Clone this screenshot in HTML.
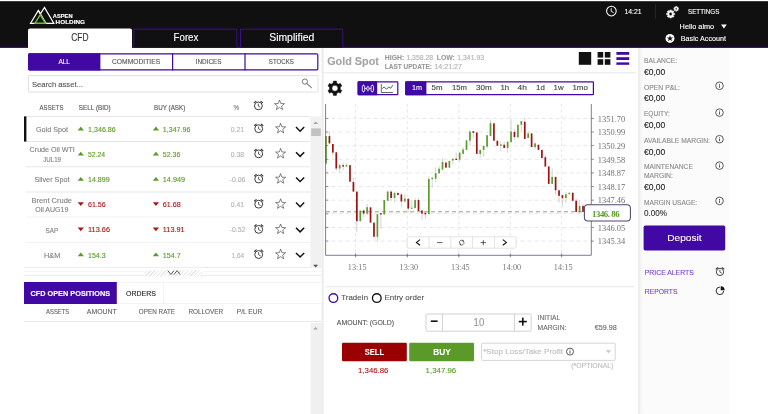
<!DOCTYPE html>
<html lang="en"><head><meta charset="utf-8"><title>Aspen Holding - CFD Trading</title>
<style>
html,body{margin:0;padding:0;width:768px;height:414px;overflow:hidden;background:#fff;}
#stage{position:absolute;left:0;top:0;width:1920px;height:1035px;transform:scale(0.4);transform-origin:0 0;
font-family:"Liberation Sans",Arial,sans-serif;overflow:hidden;background:#fff;}
#stage div{position:absolute;box-sizing:border-box;}
#stage .t{white-space:nowrap;-webkit-text-stroke-width:0.3px;}
#stage svg{position:absolute;left:0;top:0;}
</style></head><body>
<div id="stage">
<div style="left:0px;top:2.5px;width:1920px;height:115px;background:#101010;"></div>
<div style="left:0px;top:117.12px;width:1920px;height:2.5px;background:#4108a3;"></div>
<div style="left:70px;top:71.25px;width:260px;height:48.75px;background:#fff;border-radius:5px 5px 0 0;"></div>
<div style="left:332.75px;top:71px;width:260.75px;height:48px;border:3px solid #4710ac;border-bottom:none;border-radius:4px 4px 0 0;background:#101010;"></div>
<div style="left:598.75px;top:71px;width:260.25px;height:48px;border:3px solid #4710ac;border-bottom:none;border-radius:4px 4px 0 0;background:#101010;"></div>
<div class="t" style="top:69px;height:50.5px;line-height:50.5px;font-size:25.25px;color:#333;left:178px;transform:scaleX(0.838);transform-origin:0 50%;">CFD</div>
<div class="t" style="top:69px;height:50.5px;line-height:50.5px;font-size:25.25px;color:#fff;left:433.75px;transform:scaleX(0.957);transform-origin:0 50%;">Forex</div>
<div class="t" style="top:69px;height:50.5px;line-height:50.5px;font-size:25.25px;color:#fff;left:673px;transform:scaleX(1.030);transform-origin:0 50%;">Simplified</div>
<div class="t" style="top:29.75px;height:24.5px;line-height:24.5px;font-size:12.25px;color:#fff;font-weight:700;left:132.25px;transform:scaleX(1.173);transform-origin:0 50%;">ASPEN</div>
<div class="t" style="top:43.25px;height:24.5px;line-height:24.5px;font-size:12.25px;color:#fff;font-weight:700;left:138.5px;transform:scaleX(1.302);transform-origin:0 50%;">HOLDING</div>
<div class="t" style="top:11.5px;height:35.5px;line-height:35.5px;font-size:17.75px;color:#fff;left:1561.25px;transform:scaleX(0.967);transform-origin:0 50%;">14:21</div>
<div style="left:1637.75px;top:10.5px;width:1.5px;height:35px;background:#4a4a4a;"></div>
<div class="t" style="top:11.25px;height:35.5px;line-height:35.5px;font-size:17.75px;color:#fff;left:1719.75px;transform:scaleX(0.882);transform-origin:0 50%;">SETTINGS</div>
<div class="t" style="top:49px;height:35.5px;line-height:35.5px;font-size:17.75px;color:#fff;left:1699px;transform:scaleX(1.031);transform-origin:0 50%;">Hello almo</div>
<div class="t" style="top:78.5px;height:35.5px;line-height:35.5px;font-size:17.75px;color:#fff;left:1702px;transform:scaleX(1.014);transform-origin:0 50%;">Basic Account</div>
<div style="left:803.5px;top:119.5px;width:5.5px;height:915.5px;background:#ebebeb;"></div>
<div style="left:70px;top:132.5px;width:725.5px;height:43.5px;border:3px solid #4108a3;border-radius:4px;background:#fff;"></div>
<div style="left:70px;top:132.5px;width:181px;height:43.5px;background:#4108a3;border-radius:4px 0 0 4px;"></div>
<div style="left:430.25px;top:132.5px;width:2.75px;height:43.5px;background:#4108a3;"></div>
<div style="left:611.25px;top:132.5px;width:2.75px;height:43.5px;background:#4108a3;"></div>
<div class="t" style="top:137px;height:35px;line-height:35px;font-size:17.5px;color:#fff;left:145.75px;transform:scaleX(0.923);transform-origin:0 50%;">ALL</div>
<div class="t" style="top:137px;height:35px;line-height:35px;font-size:17.5px;color:#555;left:279.75px;transform:scaleX(0.959);transform-origin:0 50%;">COMMODITIES</div>
<div class="t" style="top:137px;height:35px;line-height:35px;font-size:17.5px;color:#555;left:489px;transform:scaleX(0.916);transform-origin:0 50%;">INDICES</div>
<div class="t" style="top:137px;height:35px;line-height:35px;font-size:17.5px;color:#555;left:671.75px;transform:scaleX(0.876);transform-origin:0 50%;">STOCKS</div>
<div style="left:70px;top:188px;width:725.5px;height:43px;border:2px solid #d8d8d8;border-radius:3px;background:#fff;"></div>
<div class="t" style="top:192px;height:39px;line-height:39px;font-size:19.5px;color:#555;left:80px;transform:scaleX(0.978);transform-origin:0 50%;">Search asset...</div>
<div class="t" style="top:250px;height:36px;line-height:36px;font-size:18px;color:#555;left:98.75px;transform:scaleX(0.838);transform-origin:0 50%;">ASSETS</div>
<div class="t" style="top:250px;height:36px;line-height:36px;font-size:18px;color:#555;left:196.75px;transform:scaleX(0.883);transform-origin:0 50%;">SELL (BID)</div>
<div class="t" style="top:250px;height:36px;line-height:36px;font-size:18px;color:#555;left:384.75px;transform:scaleX(0.872);transform-origin:0 50%;">BUY (ASK)</div>
<div class="t" style="top:250.5px;height:35px;line-height:35px;font-size:17.5px;color:#777;left:583.75px;transform:scaleX(0.883);transform-origin:0 50%;">%</div>
<div style="left:65px;top:290.25px;width:710px;height:1.5px;background:#e0e0e0;"></div>
<div class="t" style="top:306.96px;height:35.5px;line-height:35.5px;font-size:17.75px;color:#828282;left:89.75px;transform:scaleX(1.011);transform-origin:0 50%;">Gold Spot</div>
<div class="t" style="top:304.96px;height:36px;line-height:36px;font-size:18px;color:#5a9a28;left:219.5px;transform:scaleX(0.991);transform-origin:0 50%;">1,346.86</div>
<div class="t" style="top:304.96px;height:36px;line-height:36px;font-size:18px;color:#5a9a28;left:407.25px;transform:scaleX(0.984);transform-origin:0 50%;">1,347.96</div>
<div class="t" style="top:305.96px;height:35.5px;line-height:35.5px;font-size:17.75px;color:#b4b4b4;left:577.25px;transform:scaleX(0.970);transform-origin:0 50%;">0.21</div>
<div style="left:65px;top:353.17px;width:710px;height:1.5px;background:#e0e0e0;"></div>
<div class="t" style="top:358.39px;height:35.5px;line-height:35.5px;font-size:17.75px;color:#828282;left:73.5px;transform:scaleX(1.005);transform-origin:0 50%;">Crude Oil WTI</div>
<div class="t" style="top:381.14px;height:35.5px;line-height:35.5px;font-size:17.75px;color:#828282;left:108px;transform:scaleX(0.867);transform-origin:0 50%;">JUL19</div>
<div class="t" style="top:367.89px;height:36px;line-height:36px;font-size:18px;color:#5a9a28;left:219.5px;transform:scaleX(0.954);transform-origin:0 50%;">52.24</div>
<div class="t" style="top:367.89px;height:36px;line-height:36px;font-size:18px;color:#5a9a28;left:407.25px;transform:scaleX(0.970);transform-origin:0 50%;">52.36</div>
<div class="t" style="top:368.89px;height:35.5px;line-height:35.5px;font-size:17.75px;color:#b4b4b4;left:577.25px;transform:scaleX(0.970);transform-origin:0 50%;">0.38</div>
<div style="left:65px;top:416.1px;width:710px;height:1.5px;background:#e0e0e0;"></div>
<div class="t" style="top:432.81px;height:35.5px;line-height:35.5px;font-size:17.75px;color:#828282;left:85.5px;transform:scaleX(1.022);transform-origin:0 50%;">Silver Spot</div>
<div class="t" style="top:430.81px;height:36px;line-height:36px;font-size:18px;color:#5a9a28;left:219.5px;transform:scaleX(0.985);transform-origin:0 50%;">14.899</div>
<div class="t" style="top:430.81px;height:36px;line-height:36px;font-size:18px;color:#5a9a28;left:407.25px;transform:scaleX(1.012);transform-origin:0 50%;">14.949</div>
<div class="t" style="top:431.81px;height:35.5px;line-height:35.5px;font-size:17.75px;color:#b4b4b4;left:574.25px;transform:scaleX(0.976);transform-origin:0 50%;">-0.06</div>
<div style="left:65px;top:479.03px;width:710px;height:1.5px;background:#e0e0e0;"></div>
<div class="t" style="top:484.24px;height:35.5px;line-height:35.5px;font-size:17.75px;color:#828282;left:79.25px;transform:scaleX(1.056);transform-origin:0 50%;">Brent Crude</div>
<div class="t" style="top:506.99px;height:35.5px;line-height:35.5px;font-size:17.75px;color:#828282;left:88px;transform:scaleX(0.987);transform-origin:0 50%;">Oil AUG19</div>
<div class="t" style="top:493.74px;height:36px;line-height:36px;font-size:18px;color:#ab1515;left:219.5px;transform:scaleX(0.981);transform-origin:0 50%;">61.56</div>
<div class="t" style="top:493.74px;height:36px;line-height:36px;font-size:18px;color:#ab1515;left:407.25px;transform:scaleX(0.998);transform-origin:0 50%;">61.68</div>
<div class="t" style="top:494.74px;height:35.5px;line-height:35.5px;font-size:17.75px;color:#b4b4b4;left:577.25px;transform:scaleX(0.949);transform-origin:0 50%;">0.41</div>
<div style="left:65px;top:541.95px;width:710px;height:1.5px;background:#e0e0e0;"></div>
<div class="t" style="top:558.66px;height:35.5px;line-height:35.5px;font-size:17.75px;color:#828282;left:114.25px;transform:scaleX(0.887);transform-origin:0 50%;">SAP</div>
<div class="t" style="top:556.66px;height:36px;line-height:36px;font-size:18px;color:#ab1515;left:219.5px;transform:scaleX(1.024);transform-origin:0 50%;">113.66</div>
<div class="t" style="top:556.66px;height:36px;line-height:36px;font-size:18px;color:#ab1515;left:407.25px;transform:scaleX(1.014);transform-origin:0 50%;">113.91</div>
<div class="t" style="top:557.66px;height:35.5px;line-height:35.5px;font-size:17.75px;color:#b4b4b4;left:574.25px;transform:scaleX(0.976);transform-origin:0 50%;">-0.52</div>
<div style="left:65px;top:604.88px;width:710px;height:1.5px;background:#e0e0e0;"></div>
<div class="t" style="top:621.59px;height:35.5px;line-height:35.5px;font-size:17.75px;color:#828282;left:110px;transform:scaleX(1.034);transform-origin:0 50%;">H&amp;M</div>
<div class="t" style="top:619.59px;height:36px;line-height:36px;font-size:18px;color:#5a9a28;left:219.5px;transform:scaleX(0.981);transform-origin:0 50%;">154.3</div>
<div class="t" style="top:619.59px;height:36px;line-height:36px;font-size:18px;color:#5a9a28;left:407.25px;transform:scaleX(0.998);transform-origin:0 50%;">154.7</div>
<div class="t" style="top:620.59px;height:35.5px;line-height:35.5px;font-size:17.75px;color:#b4b4b4;left:579.25px;transform:scaleX(0.912);transform-origin:0 50%;">1.64</div>
<div style="left:65px;top:667.8px;width:710px;height:1.5px;background:#e0e0e0;"></div>
<div style="left:60px;top:291px;width:6.25px;height:63px;background:#111;"></div>
<div style="left:775.5px;top:290.5px;width:28px;height:377.75px;background:#f1f1f1;"></div>
<div style="left:777.75px;top:321.25px;width:24.5px;height:18.5px;background:#c1c1c1;"></div>
<div style="left:60px;top:667.5px;width:743.5px;height:1.5px;background:#e4e4e4;"></div>
<div style="left:60px;top:677.5px;width:743.5px;height:1.5px;background:#e8e8e8;"></div>
<div style="left:60px;top:688.25px;width:743.5px;height:1.5px;background:#e8e8e8;"></div>
<div style="left:360.5px;top:675.5px;width:144.5px;height:15.5px;background:repeating-linear-gradient(135deg,#fff 0,#fff 4.3px,#e6e6e6 4.3px,#e6e6e6 6.6px);"></div>
<div style="left:60px;top:705px;width:743.5px;height:55.25px;border-top:1.5px solid #e2e2e2;border-bottom:1.5px solid #e2e2e2;background:#fff;"></div>
<div style="left:407.5px;top:705px;width:1.5px;height:55.25px;background:#e2e2e2;"></div>
<div style="left:60px;top:705px;width:232.25px;height:55.25px;background:#4108a3;"></div>
<div class="t" style="top:715px;height:36.5px;line-height:36.5px;font-size:18.25px;color:#fff;font-weight:700;left:75.5px;transform:scaleX(1.004);transform-origin:0 50%;">CFD OPEN POSITIONS</div>
<div class="t" style="top:713.75px;height:39px;line-height:39px;font-size:19.5px;color:#222;left:314.5px;transform:scaleX(0.896);transform-origin:0 50%;">ORDERS</div>
<div class="t" style="top:761.5px;height:35.5px;line-height:35.5px;font-size:17.75px;color:#666;left:114.5px;transform:scaleX(0.832);transform-origin:0 50%;">ASSETS</div>
<div class="t" style="top:761.5px;height:35.5px;line-height:35.5px;font-size:17.75px;color:#666;left:217.25px;transform:scaleX(0.971);transform-origin:0 50%;">AMOUNT</div>
<div class="t" style="top:761.5px;height:35.5px;line-height:35.5px;font-size:17.75px;color:#666;left:347.25px;transform:scaleX(0.894);transform-origin:0 50%;">OPEN RATE</div>
<div class="t" style="top:761.5px;height:35.5px;line-height:35.5px;font-size:17.75px;color:#666;left:470.5px;transform:scaleX(0.898);transform-origin:0 50%;">ROLLOVER</div>
<div class="t" style="top:761.5px;height:35.5px;line-height:35.5px;font-size:17.75px;color:#666;left:592px;transform:scaleX(0.935);transform-origin:0 50%;">P/L EUR</div>
<div style="left:60px;top:803.25px;width:743.5px;height:1.5px;background:#e4e4e4;"></div>
<div style="left:775.5px;top:806.5px;width:28px;height:228.5px;background:#f0f0f0;"></div>
<div class="t" style="top:125px;height:55px;line-height:55px;font-size:27.5px;color:#a4a4a4;font-weight:700;left:817.75px;transform:scaleX(0.984);transform-origin:0 50%;">Gold Spot</div>
<div class="t" style="top:125.5px;height:35px;line-height:35px;font-size:17.5px;color:#9a9a9a;font-weight:700;left:961.75px;transform:scaleX(0.983);transform-origin:0 50%;">HIGH:</div>
<div class="t" style="top:125.5px;height:35px;line-height:35px;font-size:17.5px;color:#b0b0b0;left:1015.75px;transform:scaleX(0.979);transform-origin:0 50%;">1,358.28</div>
<div class="t" style="top:125.5px;height:35px;line-height:35px;font-size:17.5px;color:#9a9a9a;font-weight:700;left:1092.25px;transform:scaleX(0.976);transform-origin:0 50%;">LOW:</div>
<div class="t" style="top:125.5px;height:35px;line-height:35px;font-size:17.5px;color:#b0b0b0;left:1142.75px;transform:scaleX(0.987);transform-origin:0 50%;">1,341.93</div>
<div class="t" style="top:148.75px;height:35px;line-height:35px;font-size:17.5px;color:#9a9a9a;font-weight:700;left:961.75px;transform:scaleX(0.927);transform-origin:0 50%;">LAST UPDATE:</div>
<div class="t" style="top:148.75px;height:35px;line-height:35px;font-size:17.5px;color:#b0b0b0;left:1086px;transform:scaleX(1.012);transform-origin:0 50%;">14:21:27</div>
<div style="left:809px;top:181.25px;width:779.75px;height:1.5px;background:#e0e0e0;"></div>
<div style="left:1446.75px;top:130.25px;width:31.5px;height:32px;background:#111;"></div>
<div style="left:1493.75px;top:130.25px;width:14px;height:14px;background:#111;"></div>
<div style="left:1511.5px;top:130.25px;width:14px;height:14px;background:#111;"></div>
<div style="left:1493.75px;top:148.25px;width:14px;height:14px;background:#111;"></div>
<div style="left:1511.5px;top:148.25px;width:14px;height:14px;background:#111;"></div>
<div style="left:1541.25px;top:130.25px;width:31.75px;height:6.75px;background:#4108a3;"></div>
<div style="left:1541.25px;top:142.75px;width:31.75px;height:6.75px;background:#4108a3;"></div>
<div style="left:1541.25px;top:155.5px;width:31.75px;height:6.75px;background:#4108a3;"></div>
<div style="left:893.75px;top:202.75px;width:101.75px;height:35px;border:3px solid #4108a3;border-radius:3px;background:#fff;"></div>
<div style="left:893.75px;top:202.75px;width:48.75px;height:35px;background:#4108a3;border-radius:3px 0 0 3px;"></div>
<div style="left:1013px;top:202.75px;width:471.5px;height:35px;border:3px solid #4108a3;border-radius:3px;background:#fff;"></div>
<div style="left:1013px;top:202.75px;width:53px;height:35px;background:#4108a3;border-radius:3px 0 0 3px;"></div>
<div class="t" style="top:199.5px;height:39px;line-height:39px;font-size:19.5px;color:#fff;left:1029.5px;transform:scaleX(0.922);transform-origin:0 50%;">1m</div>
<div class="t" style="top:199.5px;height:39px;line-height:39px;font-size:19.5px;color:#444;left:1078.5px;transform:scaleX(1.015);transform-origin:0 50%;">5m</div>
<div class="t" style="top:199.5px;height:39px;line-height:39px;font-size:19.5px;color:#444;left:1130px;transform:scaleX(0.989);transform-origin:0 50%;">15m</div>
<div class="t" style="top:199.5px;height:39px;line-height:39px;font-size:19.5px;color:#444;left:1189.75px;transform:scaleX(1.035);transform-origin:0 50%;">30m</div>
<div class="t" style="top:199.5px;height:39px;line-height:39px;font-size:19.5px;color:#444;left:1251.25px;transform:scaleX(1.016);transform-origin:0 50%;">1h</div>
<div class="t" style="top:199.5px;height:39px;line-height:39px;font-size:19.5px;color:#444;left:1294.25px;transform:scaleX(1.074);transform-origin:0 50%;">4h</div>
<div class="t" style="top:199.5px;height:39px;line-height:39px;font-size:19.5px;color:#444;left:1339.5px;transform:scaleX(1.016);transform-origin:0 50%;">1d</div>
<div class="t" style="top:199.5px;height:39px;line-height:39px;font-size:19.5px;color:#444;left:1384px;transform:scaleX(1.012);transform-origin:0 50%;">1w</div>
<div class="t" style="top:199.5px;height:39px;line-height:39px;font-size:19.5px;color:#444;left:1431.25px;transform:scaleX(1.022);transform-origin:0 50%;">1mo</div>
<div style="left:815px;top:716.25px;width:771.25px;height:1.5px;background:#e0e0e0;"></div>
<div class="t" style="top:724px;height:39px;line-height:39px;font-size:19.5px;color:#555;left:852.5px;transform:scaleX(1.015);transform-origin:0 50%;">TradeIn</div>
<div class="t" style="top:724px;height:39px;line-height:39px;font-size:19.5px;color:#555;left:960.75px;transform:scaleX(1.029);transform-origin:0 50%;">Entry order</div>
<div class="t" style="top:789.25px;height:35.5px;line-height:35.5px;font-size:17.75px;color:#555;left:841.5px;transform:scaleX(0.973);transform-origin:0 50%;">AMOUNT: (GOLD)</div>
<div style="left:1063.5px;top:784px;width:265.5px;height:44.5px;border:2px solid #c6c6c6;border-radius:4px;background:#fff;"></div>
<div style="left:1105.25px;top:784px;width:1.5px;height:44.5px;background:#ccc;"></div>
<div style="left:1285.25px;top:784px;width:1.5px;height:44.5px;background:#ccc;"></div>
<div class="t" style="top:781.5px;height:50px;line-height:50px;font-size:25px;color:#999;left:1183.5px;transform:scaleX(0.955);transform-origin:0 50%;">10</div>
<div style="left:1076.5px;top:801.25px;width:17.5px;height:3.75px;background:#111;"></div>
<div style="left:1297px;top:802px;width:19.5px;height:3.75px;background:#111;"></div>
<div style="left:1304.75px;top:794px;width:4px;height:19.75px;background:#111;"></div>
<div class="t" style="top:777px;height:35px;line-height:35px;font-size:17.5px;color:#6c6c6c;left:1343.5px;transform:scaleX(0.948);transform-origin:0 50%;">INITIAL</div>
<div class="t" style="top:801px;height:35px;line-height:35px;font-size:17.5px;color:#6c6c6c;left:1343.5px;transform:scaleX(0.961);transform-origin:0 50%;">MARGIN:</div>
<div class="t" style="top:800.25px;height:36.5px;line-height:36.5px;font-size:18.25px;color:#6c6c6c;left:1487.25px;transform:scaleX(0.989);transform-origin:0 50%;">€59.98</div>
<div style="left:854.75px;top:857px;width:162px;height:45.75px;background:#9a0000;border-radius:3px;"></div>
<div style="left:1023px;top:857px;width:161.5px;height:45.75px;background:#5a9a28;border-radius:3px;"></div>
<div class="t" style="top:857px;height:45px;line-height:45px;font-size:22.5px;color:#fff;font-weight:700;left:912px;transform:scaleX(0.835);transform-origin:0 50%;">SELL</div>
<div class="t" style="top:857px;height:45px;line-height:45px;font-size:22.5px;color:#fff;font-weight:700;left:1082.75px;transform:scaleX(0.922);transform-origin:0 50%;">BUY</div>
<div class="t" style="top:906.75px;height:39.5px;line-height:39.5px;font-size:19.75px;color:#b01818;left:894.5px;transform:scaleX(0.991);transform-origin:0 50%;">1,346.86</div>
<div class="t" style="top:906.75px;height:39.5px;line-height:39.5px;font-size:19.75px;color:#5a9a28;left:1064px;transform:scaleX(0.994);transform-origin:0 50%;">1,347.96</div>
<div style="left:1203.25px;top:857px;width:336px;height:44.5px;border:2px solid #cdcdcd;border-radius:3px;background:#fff;"></div>
<div class="t" style="top:860px;height:39px;line-height:39px;font-size:19.5px;color:#bdbdbd;left:1208px;transform:scaleX(1.040);transform-origin:0 50%;">*Stop Loss/Take Profit</div>
<div class="t" style="top:898px;height:35.5px;line-height:35.5px;font-size:17.75px;color:#bdbdbd;left:1427.5px;transform:scaleX(0.973);transform-origin:0 50%;">(*OPTIONAL)</div>
<div style="left:1594px;top:119.5px;width:12.5px;height:915.5px;background:linear-gradient(90deg,#fff 0,#e9e9e9 22%,#f3f3f3 50%,#fbfbfb 100%);"></div>
<div style="left:1606.5px;top:119.5px;width:216px;height:915.5px;background:#fbfbfb;"></div>
<div class="t" style="top:134.25px;height:36px;line-height:36px;font-size:18px;color:#8a8a8a;left:1609.75px;transform:scaleX(0.930);transform-origin:0 50%;">BALANCE:</div>
<div class="t" style="top:200.75px;height:36px;line-height:36px;font-size:18px;color:#8a8a8a;left:1609.75px;transform:scaleX(0.944);transform-origin:0 50%;">OPEN P&amp;L:</div>
<div class="t" style="top:267px;height:36px;line-height:36px;font-size:18px;color:#8a8a8a;left:1609.75px;transform:scaleX(0.908);transform-origin:0 50%;">EQUITY:</div>
<div class="t" style="top:333px;height:36px;line-height:36px;font-size:18px;color:#8a8a8a;left:1609.75px;transform:scaleX(0.935);transform-origin:0 50%;">AVAILABLE MARGIN:</div>
<div class="t" style="top:398.75px;height:36px;line-height:36px;font-size:18px;color:#8a8a8a;left:1609.75px;transform:scaleX(0.933);transform-origin:0 50%;">MAINTENANCE</div>
<div class="t" style="top:420.75px;height:36px;line-height:36px;font-size:18px;color:#8a8a8a;left:1609.75px;transform:scaleX(0.935);transform-origin:0 50%;">MARGIN:</div>
<div class="t" style="top:487.5px;height:36px;line-height:36px;font-size:18px;color:#8a8a8a;left:1609.75px;transform:scaleX(0.917);transform-origin:0 50%;">MARGIN USAGE:</div>
<div class="t" style="top:158.75px;height:43.5px;line-height:43.5px;font-size:21.75px;color:#222;left:1609.75px;transform:scaleX(0.977);transform-origin:0 50%;">€0,00</div>
<div class="t" style="top:223.5px;height:43.5px;line-height:43.5px;font-size:21.75px;color:#222;left:1609.75px;transform:scaleX(0.977);transform-origin:0 50%;">€0,00</div>
<div class="t" style="top:291.5px;height:43.5px;line-height:43.5px;font-size:21.75px;color:#222;left:1609.75px;transform:scaleX(0.977);transform-origin:0 50%;">€0,00</div>
<div class="t" style="top:357.5px;height:43.5px;line-height:43.5px;font-size:21.75px;color:#222;left:1609.75px;transform:scaleX(0.977);transform-origin:0 50%;">€0,00</div>
<div class="t" style="top:445.25px;height:43.5px;line-height:43.5px;font-size:21.75px;color:#222;left:1609.75px;transform:scaleX(0.977);transform-origin:0 50%;">€0,00</div>
<div class="t" style="top:512.25px;height:43px;line-height:43px;font-size:21.5px;color:#333;left:1609.75px;transform:scaleX(0.947);transform-origin:0 50%;">0.00%</div>
<div style="left:1608.5px;top:564.25px;width:204px;height:61.75px;background:#4108a3;border-radius:4px;"></div>
<div class="t" style="top:570px;height:49px;line-height:49px;font-size:24.5px;color:#fff;left:1667.75px;transform:scaleX(1.035);transform-origin:0 50%;">Deposit</div>
<div class="t" style="top:660.75px;height:39px;line-height:39px;font-size:19.5px;color:#7a3fd0;left:1611.75px;transform:scaleX(0.877);transform-origin:0 50%;">PRICE ALERTS</div>
<div class="t" style="top:708px;height:39px;line-height:39px;font-size:19.5px;color:#7a3fd0;left:1611.75px;transform:scaleX(0.868);transform-origin:0 50%;">REPORTS</div>
<svg width="1920" height="1035" viewBox="0 0 768 414" style=""><path d="M77.7 130.38500000000002L83.89999999999999 130.38500000000002L80.8 126.58500000000002Z" fill="#5a9a28"/><path d="M152.8 130.38500000000002L159.0 130.38500000000002L155.9 126.58500000000002Z" fill="#5a9a28"/><path d="M77.7 155.555L83.89999999999999 155.555L80.8 151.755Z" fill="#5a9a28"/><path d="M152.8 155.555L159.0 155.555L155.9 151.755Z" fill="#5a9a28"/><path d="M77.7 180.72500000000002L83.89999999999999 180.72500000000002L80.8 176.925Z" fill="#5a9a28"/><path d="M152.8 180.72500000000002L159.0 180.72500000000002L155.9 176.925Z" fill="#5a9a28"/><path d="M77.7 202.29500000000004L83.89999999999999 202.29500000000004L80.8 206.09500000000003Z" fill="#ab1515"/><path d="M152.8 202.29500000000004L159.0 202.29500000000004L155.9 206.09500000000003Z" fill="#ab1515"/><path d="M77.7 227.46500000000003L83.89999999999999 227.46500000000003L80.8 231.26500000000001Z" fill="#ab1515"/><path d="M152.8 227.46500000000003L159.0 227.46500000000003L155.9 231.26500000000001Z" fill="#ab1515"/><path d="M77.7 256.235L83.89999999999999 256.235L80.8 252.435Z" fill="#5a9a28"/><path d="M152.8 256.235L159.0 256.235L155.9 252.435Z" fill="#5a9a28"/><path d="M313.3 124.1L318.1 124.1L315.7 121.6Z" fill="#a3a3a3"/><path d="M313.2 264.8L318 264.8L315.6 267.4Z" fill="#505050"/><path d="M167.8 270.6L170.9 274.6L174 270.6M174 274.6L177.1 270.6L180.2 274.6" fill="none" stroke="#333" stroke-width="0.8"/><path d="M313.4 329.4L317.8 329.4L315.6 327Z" fill="#a3a3a3"/><path d="M605.7 350.2L611.3 350.2L608.5 353.3Z" fill="#c8c8c8"/></svg>
<svg width="1920" height="1035" viewBox="0 0 768 414" style=""><line x1="355.6" y1="104" x2="355.6" y2="255" stroke="#d6d6d6" stroke-width="0.6" stroke-dasharray="3.2 2.4"/><line x1="407.3" y1="104" x2="407.3" y2="255" stroke="#d6d6d6" stroke-width="0.6" stroke-dasharray="3.2 2.4"/><line x1="458.8" y1="104" x2="458.8" y2="255" stroke="#d6d6d6" stroke-width="0.6" stroke-dasharray="3.2 2.4"/><line x1="510.3" y1="104" x2="510.3" y2="255" stroke="#d6d6d6" stroke-width="0.6" stroke-dasharray="3.2 2.4"/><line x1="561.6" y1="104" x2="561.6" y2="255" stroke="#d6d6d6" stroke-width="0.6" stroke-dasharray="3.2 2.4"/><line x1="331.5" y1="118.40" x2="591" y2="118.40" stroke="#d6d6d6" stroke-width="0.6" stroke-dasharray="4 3"/><line x1="331.5" y1="132.03" x2="591" y2="132.03" stroke="#d6d6d6" stroke-width="0.6" stroke-dasharray="4 3"/><line x1="331.5" y1="145.66" x2="591" y2="145.66" stroke="#d6d6d6" stroke-width="0.6" stroke-dasharray="4 3"/><line x1="331.5" y1="159.29" x2="591" y2="159.29" stroke="#d6d6d6" stroke-width="0.6" stroke-dasharray="4 3"/><line x1="331.5" y1="172.92" x2="591" y2="172.92" stroke="#d6d6d6" stroke-width="0.6" stroke-dasharray="4 3"/><line x1="331.5" y1="186.55" x2="591" y2="186.55" stroke="#d6d6d6" stroke-width="0.6" stroke-dasharray="4 3"/><line x1="331.5" y1="200.18" x2="591" y2="200.18" stroke="#d6d6d6" stroke-width="0.6" stroke-dasharray="4 3"/><line x1="331.5" y1="213.81" x2="591" y2="213.81" stroke="#d6d6d6" stroke-width="0.6" stroke-dasharray="4 3"/><line x1="331.5" y1="227.44" x2="591" y2="227.44" stroke="#d6d6d6" stroke-width="0.6" stroke-dasharray="4 3"/><line x1="331.5" y1="241.07" x2="591" y2="241.07" stroke="#d6d6d6" stroke-width="0.6" stroke-dasharray="4 3"/><line x1="326" y1="211.8" x2="591" y2="211.8" stroke="#8e8e8e" stroke-width="0.9" stroke-dasharray="4 3"/><rect x="325.15" y="136.1" width="1.7" height="27.50" fill="#5f9a2e"/><line x1="329.43" y1="131.5" x2="329.43" y2="143.4" stroke="#a8a8a8" stroke-width="0.5"/><rect x="328.58" y="136.1" width="1.7" height="7.30" fill="#9c1212"/><line x1="332.85" y1="144.0" x2="332.85" y2="155.4" stroke="#a8a8a8" stroke-width="0.5"/><rect x="332.00" y="144.0" width="1.7" height="8.60" fill="#9c1212"/><line x1="336.28" y1="152.3" x2="336.28" y2="171.0" stroke="#a8a8a8" stroke-width="0.5"/><rect x="335.43" y="152.3" width="1.7" height="16.20" fill="#9c1212"/><line x1="339.71" y1="163.6" x2="339.71" y2="172.6" stroke="#a8a8a8" stroke-width="0.5"/><rect x="338.86" y="165.1" width="1.7" height="3.40" fill="#5f9a2e"/><line x1="343.13" y1="163.0" x2="343.13" y2="170.4" stroke="#a8a8a8" stroke-width="0.5"/><rect x="342.28" y="165.1" width="1.7" height="1.50" fill="#9c1212"/><line x1="346.56" y1="163.6" x2="346.56" y2="166.6" stroke="#a8a8a8" stroke-width="0.5"/><rect x="345.71" y="165.1" width="1.7" height="1.50" fill="#5f9a2e"/><rect x="349.14" y="165.1" width="1.7" height="16.60" fill="#9c1212"/><line x1="353.42" y1="177.4" x2="353.42" y2="191.6" stroke="#a8a8a8" stroke-width="0.5"/><rect x="352.57" y="182.0" width="1.7" height="9.60" fill="#9c1212"/><line x1="356.84" y1="191.6" x2="356.84" y2="232.3" stroke="#a8a8a8" stroke-width="0.5"/><rect x="355.99" y="191.6" width="1.7" height="29.60" fill="#9c1212"/><rect x="359.42" y="210.5" width="1.7" height="10.70" fill="#5f9a2e"/><line x1="363.70" y1="209.2" x2="363.70" y2="217.2" stroke="#a8a8a8" stroke-width="0.5"/><rect x="362.85" y="210.5" width="1.7" height="3.10" fill="#9c1212"/><line x1="367.12" y1="204.0" x2="367.12" y2="215.0" stroke="#a8a8a8" stroke-width="0.5"/><rect x="366.27" y="207.2" width="1.7" height="6.40" fill="#5f9a2e"/><rect x="369.70" y="207.3" width="1.7" height="15.30" fill="#9c1212"/><rect x="373.13" y="222.6" width="1.7" height="14.20" fill="#9c1212"/><line x1="377.40" y1="214.2" x2="377.40" y2="241.4" stroke="#a8a8a8" stroke-width="0.5"/><rect x="376.55" y="214.2" width="1.7" height="22.60" fill="#5f9a2e"/><line x1="380.83" y1="212.3" x2="380.83" y2="228.9" stroke="#a8a8a8" stroke-width="0.5"/><rect x="379.98" y="213.2" width="1.7" height="1.30" fill="#9c1212"/><rect x="383.41" y="200.0" width="1.7" height="14.50" fill="#5f9a2e"/><line x1="387.69" y1="190.3" x2="387.69" y2="200.7" stroke="#a8a8a8" stroke-width="0.5"/><rect x="386.84" y="191.6" width="1.7" height="9.10" fill="#5f9a2e"/><line x1="391.11" y1="190.3" x2="391.11" y2="200.7" stroke="#a8a8a8" stroke-width="0.5"/><rect x="390.26" y="191.6" width="1.7" height="6.40" fill="#9c1212"/><line x1="394.54" y1="191.6" x2="394.54" y2="201.8" stroke="#a8a8a8" stroke-width="0.5"/><rect x="393.69" y="193.0" width="1.7" height="5.00" fill="#5f9a2e"/><line x1="397.97" y1="191.6" x2="397.97" y2="196.0" stroke="#a8a8a8" stroke-width="0.5"/><rect x="397.12" y="193.0" width="1.7" height="1.90" fill="#9c1212"/><line x1="401.39" y1="193.0" x2="401.39" y2="207.3" stroke="#a8a8a8" stroke-width="0.5"/><rect x="400.54" y="194.5" width="1.7" height="7.00" fill="#9c1212"/><line x1="404.82" y1="194.0" x2="404.82" y2="202.6" stroke="#a8a8a8" stroke-width="0.5"/><rect x="403.97" y="198.5" width="1.7" height="3.00" fill="#5f9a2e"/><line x1="408.25" y1="197.6" x2="408.25" y2="212.3" stroke="#a8a8a8" stroke-width="0.5"/><rect x="407.40" y="198.9" width="1.7" height="9.70" fill="#9c1212"/><line x1="411.68" y1="200.4" x2="411.68" y2="208.8" stroke="#a8a8a8" stroke-width="0.5"/><rect x="410.82" y="207.7" width="1.7" height="1.10" fill="#5f9a2e"/><line x1="415.10" y1="198.2" x2="415.10" y2="208.1" stroke="#a8a8a8" stroke-width="0.5"/><rect x="414.25" y="200.0" width="1.7" height="8.10" fill="#5f9a2e"/><line x1="418.53" y1="198.2" x2="418.53" y2="211.0" stroke="#a8a8a8" stroke-width="0.5"/><rect x="417.68" y="200.0" width="1.7" height="11.00" fill="#9c1212"/><line x1="421.96" y1="210.5" x2="421.96" y2="219.6" stroke="#a8a8a8" stroke-width="0.5"/><rect x="421.11" y="210.5" width="1.7" height="3.10" fill="#9c1212"/><line x1="425.38" y1="211.4" x2="425.38" y2="219.1" stroke="#a8a8a8" stroke-width="0.5"/><rect x="424.53" y="212.8" width="1.7" height="1.50" fill="#9c1212"/><line x1="428.81" y1="176.5" x2="428.81" y2="214.1" stroke="#a8a8a8" stroke-width="0.5"/><rect x="427.96" y="178.9" width="1.7" height="35.20" fill="#5f9a2e"/><line x1="432.24" y1="176.5" x2="432.24" y2="187.5" stroke="#a8a8a8" stroke-width="0.5"/><rect x="431.39" y="177.8" width="1.7" height="1.30" fill="#5f9a2e"/><line x1="435.66" y1="167.3" x2="435.66" y2="182.0" stroke="#a8a8a8" stroke-width="0.5"/><rect x="434.81" y="173.2" width="1.7" height="5.50" fill="#5f9a2e"/><line x1="439.09" y1="165.9" x2="439.09" y2="173.3" stroke="#a8a8a8" stroke-width="0.5"/><rect x="438.24" y="168.7" width="1.7" height="4.60" fill="#5f9a2e"/><line x1="442.52" y1="158.1" x2="442.52" y2="169.6" stroke="#a8a8a8" stroke-width="0.5"/><rect x="441.67" y="162.0" width="1.7" height="7.60" fill="#5f9a2e"/><rect x="445.09" y="162.5" width="1.7" height="5.20" fill="#9c1212"/><rect x="448.52" y="160.9" width="1.7" height="6.80" fill="#5f9a2e"/><line x1="452.80" y1="158.1" x2="452.80" y2="164.5" stroke="#a8a8a8" stroke-width="0.5"/><rect x="451.95" y="159.0" width="1.7" height="1.50" fill="#5f9a2e"/><line x1="456.23" y1="152.6" x2="456.23" y2="160.0" stroke="#a8a8a8" stroke-width="0.5"/><rect x="455.38" y="158.7" width="1.7" height="1.30" fill="#9c1212"/><line x1="459.65" y1="152.6" x2="459.65" y2="161.8" stroke="#a8a8a8" stroke-width="0.5"/><rect x="458.80" y="152.6" width="1.7" height="7.00" fill="#5f9a2e"/><line x1="463.08" y1="147.1" x2="463.08" y2="153.9" stroke="#a8a8a8" stroke-width="0.5"/><rect x="462.23" y="149.5" width="1.7" height="4.40" fill="#5f9a2e"/><rect x="465.66" y="140.3" width="1.7" height="9.60" fill="#5f9a2e"/><line x1="469.93" y1="130.6" x2="469.93" y2="145.8" stroke="#a8a8a8" stroke-width="0.5"/><rect x="469.08" y="131.5" width="1.7" height="9.20" fill="#5f9a2e"/><line x1="473.36" y1="131.2" x2="473.36" y2="137.9" stroke="#a8a8a8" stroke-width="0.5"/><rect x="472.51" y="131.2" width="1.7" height="1.60" fill="#9c1212"/><rect x="475.94" y="132.4" width="1.7" height="21.50" fill="#9c1212"/><line x1="480.22" y1="149.9" x2="480.22" y2="158.1" stroke="#a8a8a8" stroke-width="0.5"/><rect x="479.37" y="149.9" width="1.7" height="4.00" fill="#5f9a2e"/><line x1="483.64" y1="145.8" x2="483.64" y2="156.8" stroke="#a8a8a8" stroke-width="0.5"/><rect x="482.79" y="145.8" width="1.7" height="4.10" fill="#5f9a2e"/><line x1="487.07" y1="135.2" x2="487.07" y2="148.4" stroke="#a8a8a8" stroke-width="0.5"/><rect x="486.22" y="135.2" width="1.7" height="11.40" fill="#5f9a2e"/><line x1="490.50" y1="119.6" x2="490.50" y2="136.1" stroke="#a8a8a8" stroke-width="0.5"/><rect x="489.65" y="123.3" width="1.7" height="12.80" fill="#5f9a2e"/><rect x="493.07" y="123.3" width="1.7" height="17.40" fill="#9c1212"/><rect x="496.50" y="140.7" width="1.7" height="5.10" fill="#9c1212"/><line x1="500.78" y1="141.6" x2="500.78" y2="150.8" stroke="#a8a8a8" stroke-width="0.5"/><rect x="499.93" y="144.4" width="1.7" height="1.40" fill="#5f9a2e"/><line x1="504.20" y1="141.6" x2="504.20" y2="148.0" stroke="#a8a8a8" stroke-width="0.5"/><rect x="503.35" y="144.7" width="1.7" height="3.30" fill="#9c1212"/><line x1="507.63" y1="141.6" x2="507.63" y2="152.6" stroke="#a8a8a8" stroke-width="0.5"/><rect x="506.78" y="141.6" width="1.7" height="6.40" fill="#5f9a2e"/><line x1="511.06" y1="118.7" x2="511.06" y2="142.2" stroke="#a8a8a8" stroke-width="0.5"/><rect x="510.21" y="131.5" width="1.7" height="10.70" fill="#5f9a2e"/><line x1="514.49" y1="128.8" x2="514.49" y2="139.8" stroke="#a8a8a8" stroke-width="0.5"/><rect x="513.63" y="131.9" width="1.7" height="5.10" fill="#9c1212"/><rect x="517.06" y="124.7" width="1.7" height="12.70" fill="#5f9a2e"/><line x1="521.34" y1="121.1" x2="521.34" y2="131.5" stroke="#a8a8a8" stroke-width="0.5"/><rect x="520.49" y="121.1" width="1.7" height="3.60" fill="#5f9a2e"/><line x1="524.77" y1="117.8" x2="524.77" y2="138.9" stroke="#a8a8a8" stroke-width="0.5"/><rect x="523.92" y="121.8" width="1.7" height="17.10" fill="#9c1212"/><line x1="528.19" y1="131.5" x2="528.19" y2="137.9" stroke="#a8a8a8" stroke-width="0.5"/><rect x="527.34" y="133.4" width="1.7" height="4.50" fill="#5f9a2e"/><rect x="530.77" y="133.4" width="1.7" height="13.70" fill="#9c1212"/><line x1="535.05" y1="142.2" x2="535.05" y2="149.0" stroke="#a8a8a8" stroke-width="0.5"/><rect x="534.20" y="143.4" width="1.7" height="3.70" fill="#5f9a2e"/><rect x="537.62" y="144.7" width="1.7" height="5.20" fill="#9c1212"/><rect x="541.05" y="149.9" width="1.7" height="8.20" fill="#9c1212"/><line x1="545.33" y1="154.5" x2="545.33" y2="166.6" stroke="#a8a8a8" stroke-width="0.5"/><rect x="544.48" y="157.2" width="1.7" height="9.40" fill="#9c1212"/><rect x="547.90" y="166.4" width="1.7" height="17.50" fill="#9c1212"/><line x1="552.18" y1="168.3" x2="552.18" y2="183.9" stroke="#a8a8a8" stroke-width="0.5"/><rect x="551.33" y="176.9" width="1.7" height="7.00" fill="#5f9a2e"/><line x1="555.61" y1="176.9" x2="555.61" y2="194.9" stroke="#a8a8a8" stroke-width="0.5"/><rect x="554.76" y="176.9" width="1.7" height="13.40" fill="#9c1212"/><line x1="559.04" y1="190.3" x2="559.04" y2="202.6" stroke="#a8a8a8" stroke-width="0.5"/><rect x="558.19" y="190.3" width="1.7" height="5.50" fill="#9c1212"/><line x1="562.46" y1="195.2" x2="562.46" y2="205.5" stroke="#a8a8a8" stroke-width="0.5"/><rect x="561.61" y="195.2" width="1.7" height="3.00" fill="#9c1212"/><line x1="565.89" y1="192.1" x2="565.89" y2="203.1" stroke="#a8a8a8" stroke-width="0.5"/><rect x="565.04" y="194.3" width="1.7" height="3.70" fill="#5f9a2e"/><rect x="568.47" y="192.7" width="1.7" height="1.60" fill="#5f9a2e"/><line x1="572.74" y1="192.7" x2="572.74" y2="202.2" stroke="#a8a8a8" stroke-width="0.5"/><rect x="571.89" y="192.7" width="1.7" height="8.00" fill="#9c1212"/><line x1="576.17" y1="198.5" x2="576.17" y2="211.9" stroke="#a8a8a8" stroke-width="0.5"/><rect x="575.32" y="200.7" width="1.7" height="11.20" fill="#9c1212"/><line x1="579.60" y1="200.4" x2="579.60" y2="214.1" stroke="#a8a8a8" stroke-width="0.5"/><rect x="578.75" y="205.9" width="1.7" height="6.00" fill="#5f9a2e"/><line x1="583.02" y1="204.0" x2="583.02" y2="211.9" stroke="#a8a8a8" stroke-width="0.5"/><rect x="582.17" y="205.9" width="1.7" height="6.00" fill="#9c1212"/><path d="M325.6 104V255.3H591.3V104" fill="none" stroke="#65567c" stroke-width="0.8"/><line x1="325.6" y1="118.40" x2="328.4" y2="118.40" stroke="#65567c" stroke-width="0.7"/><line x1="591.3" y1="118.40" x2="593.9" y2="118.40" stroke="#65567c" stroke-width="0.7"/><line x1="325.6" y1="132.03" x2="328.4" y2="132.03" stroke="#65567c" stroke-width="0.7"/><line x1="591.3" y1="132.03" x2="593.9" y2="132.03" stroke="#65567c" stroke-width="0.7"/><line x1="325.6" y1="145.66" x2="328.4" y2="145.66" stroke="#65567c" stroke-width="0.7"/><line x1="591.3" y1="145.66" x2="593.9" y2="145.66" stroke="#65567c" stroke-width="0.7"/><line x1="325.6" y1="159.29" x2="328.4" y2="159.29" stroke="#65567c" stroke-width="0.7"/><line x1="591.3" y1="159.29" x2="593.9" y2="159.29" stroke="#65567c" stroke-width="0.7"/><line x1="325.6" y1="172.92" x2="328.4" y2="172.92" stroke="#65567c" stroke-width="0.7"/><line x1="591.3" y1="172.92" x2="593.9" y2="172.92" stroke="#65567c" stroke-width="0.7"/><line x1="325.6" y1="186.55" x2="328.4" y2="186.55" stroke="#65567c" stroke-width="0.7"/><line x1="591.3" y1="186.55" x2="593.9" y2="186.55" stroke="#65567c" stroke-width="0.7"/><line x1="325.6" y1="200.18" x2="328.4" y2="200.18" stroke="#65567c" stroke-width="0.7"/><line x1="591.3" y1="200.18" x2="593.9" y2="200.18" stroke="#65567c" stroke-width="0.7"/><line x1="325.6" y1="213.81" x2="328.4" y2="213.81" stroke="#65567c" stroke-width="0.7"/><line x1="591.3" y1="213.81" x2="593.9" y2="213.81" stroke="#65567c" stroke-width="0.7"/><line x1="325.6" y1="227.44" x2="328.4" y2="227.44" stroke="#65567c" stroke-width="0.7"/><line x1="591.3" y1="227.44" x2="593.9" y2="227.44" stroke="#65567c" stroke-width="0.7"/><line x1="325.6" y1="241.07" x2="328.4" y2="241.07" stroke="#65567c" stroke-width="0.7"/><line x1="591.3" y1="241.07" x2="593.9" y2="241.07" stroke="#65567c" stroke-width="0.7"/><line x1="355.6" y1="253.6" x2="355.6" y2="257.2" stroke="#65567c" stroke-width="0.8"/><line x1="407.3" y1="253.6" x2="407.3" y2="257.2" stroke="#65567c" stroke-width="0.8"/><line x1="458.8" y1="253.6" x2="458.8" y2="257.2" stroke="#65567c" stroke-width="0.8"/><line x1="510.3" y1="253.6" x2="510.3" y2="257.2" stroke="#65567c" stroke-width="0.8"/><line x1="561.6" y1="253.6" x2="561.6" y2="257.2" stroke="#65567c" stroke-width="0.8"/><text x="597.8" y="121.70" font-family="Liberation Serif,serif" font-size="8.45" fill="#707070">1351.70</text><text x="597.8" y="135.33" font-family="Liberation Serif,serif" font-size="8.45" fill="#707070">1350.99</text><text x="597.8" y="148.96" font-family="Liberation Serif,serif" font-size="8.45" fill="#707070">1350.29</text><text x="597.8" y="162.59" font-family="Liberation Serif,serif" font-size="8.45" fill="#707070">1349.58</text><text x="597.8" y="176.22" font-family="Liberation Serif,serif" font-size="8.45" fill="#707070">1348.87</text><text x="597.8" y="189.85" font-family="Liberation Serif,serif" font-size="8.45" fill="#707070">1348.17</text><text x="597.8" y="203.48" font-family="Liberation Serif,serif" font-size="8.45" fill="#707070">1347.46</text><text x="597.8" y="230.74" font-family="Liberation Serif,serif" font-size="8.45" fill="#707070">1346.05</text><text x="597.8" y="244.37" font-family="Liberation Serif,serif" font-size="8.45" fill="#707070">1345.34</text><text x="357.20000000000005" y="269.8" text-anchor="middle" font-family="Liberation Serif,serif" font-size="8.2" fill="#777">13:15</text><text x="408.90000000000003" y="269.8" text-anchor="middle" font-family="Liberation Serif,serif" font-size="8.2" fill="#777">13:30</text><text x="460.40000000000003" y="269.8" text-anchor="middle" font-family="Liberation Serif,serif" font-size="8.2" fill="#777">13:45</text><text x="511.90000000000003" y="269.8" text-anchor="middle" font-family="Liberation Serif,serif" font-size="8.2" fill="#777">14:00</text><text x="563.2" y="269.8" text-anchor="middle" font-family="Liberation Serif,serif" font-size="8.2" fill="#777">14:15</text><rect x="584.4" y="204.8" width="46" height="16.2" rx="3.4" fill="#fff" stroke="#55456c" stroke-width="1.05"/><text x="592.0" y="216.8" font-family="Liberation Serif,serif" font-weight="bold" font-size="8.7" fill="#5a9a28" letter-spacing="-0.4">1346. 86</text><rect x="407.2" y="236.8" width="109" height="11.4" rx="1.6" fill="#fff" stroke="#d0d0d0" stroke-width="0.6"/><line x1="429.0" y1="236.8" x2="429.0" y2="248.2" stroke="#d0d0d0" stroke-width="0.6"/><line x1="450.8" y1="236.8" x2="450.8" y2="248.2" stroke="#d0d0d0" stroke-width="0.6"/><line x1="472.6" y1="236.8" x2="472.6" y2="248.2" stroke="#d0d0d0" stroke-width="0.6"/><line x1="494.4" y1="236.8" x2="494.4" y2="248.2" stroke="#d0d0d0" stroke-width="0.6"/><path d="M420 239.6L416.4 242.4L420 245.2" fill="none" stroke="#111" stroke-width="1.1"/><path d="M502.8 239.6L506.4 242.4L502.8 245.2" fill="none" stroke="#111" stroke-width="1.1"/><line x1="437" y1="242.6" x2="442.6" y2="242.6" stroke="#222" stroke-width="0.7"/><path d="M480.6 242.6H486M483.3 239.9V245.3" stroke="#222" stroke-width="0.7"/><path d="M459.5 243.1A2.3 2.3 0 0 1 463.4 240.9M463.9 242.1A2.3 2.3 0 0 1 460 244.3" fill="none" stroke="#333" stroke-width="0.7"/><path d="M462.9 239.8L464.3 241.4L462.4 241.7ZM460.5 245.4L459.1 243.8L461 243.5Z" fill="#333"/></svg>
<svg width="1920" height="1035" viewBox="0 0 768 414" style=""><path d="M30.6 23.3L38.3 10.4L40.4 13.9L44.5 7.5L53.8 23.3Z" fill="none" stroke="#fff" stroke-width="1.25" stroke-linejoin="miter"/><path d="M38.3 10.4L46 23.3" fill="none" stroke="#fff" stroke-width="1.1"/><path d="M35.1 23.2L40.2 14.9L45.4 23.2Z" fill="#101010" stroke="#6cc02f" stroke-width="1.35"/><circle cx="611.4" cy="11.1" r="4.8" fill="none" stroke="#fff" stroke-width="1.05"/><path d="M611.2 8.2V11.4L613.6 12.6" fill="none" stroke="#fff" stroke-width="0.9"/><path d="M674.61,13.17L674.61,14.83L673.48,14.84L673.23,15.45L674.03,16.25L672.85,17.43L672.05,16.63L671.44,16.88L671.43,18.01L669.77,18.01L669.76,16.88L669.15,16.63L668.35,17.43L667.17,16.25L667.97,15.45L667.72,14.84L666.59,14.83L666.59,13.17L667.72,13.16L667.97,12.55L667.17,11.75L668.35,10.57L669.15,11.37L669.76,11.12L669.77,9.99L671.43,9.99L671.44,11.12L672.05,11.37L672.85,10.57L674.03,11.75L673.23,12.55L673.48,13.16ZM672.3000000000001 14.0A1.7 1.7 0 1 0 668.9 14.0A1.7 1.7 0 1 0 672.3000000000001 14.0Z" fill="#fff" fill-rule="evenodd" stroke="#fff" stroke-width="0.5" stroke-linejoin="round"/><path d="M678.55,8.31L678.55,9.29L677.83,9.27L677.69,9.62L678.21,10.12L677.52,10.81L677.02,10.29L676.67,10.43L676.69,11.15L675.71,11.15L675.73,10.43L675.38,10.29L674.88,10.81L674.19,10.12L674.71,9.62L674.57,9.27L673.85,9.29L673.85,8.31L674.57,8.33L674.71,7.98L674.19,7.48L674.88,6.79L675.38,7.31L675.73,7.17L675.71,6.45L676.69,6.45L676.67,7.17L677.02,7.31L677.52,6.79L678.21,7.48L677.69,7.98L677.83,8.33ZM677.1500000000001 8.8A0.95 0.95 0 1 0 675.25 8.8A0.95 0.95 0 1 0 677.1500000000001 8.8Z" fill="#fff" fill-rule="evenodd" stroke="#fff" stroke-width="0.5" stroke-linejoin="round"/><path d="M721.0 24.6L726.8 24.6L723.9 28.6Z" fill="#fff"/><circle cx="670" cy="38.4" r="4.5" fill="#fff"/><polygon points="670.00,35.20 670.79,37.41 673.14,37.48 671.28,38.92 671.94,41.17 670.00,39.85 668.06,41.17 668.72,38.92 666.86,37.48 669.21,37.41" fill="#111"/><circle cx="304.9" cy="81.6" r="2.6" fill="none" stroke="#444" stroke-width="0.7"/><path d="M306.9 83.6L311.4 87.6" stroke="#444" stroke-width="1.0" stroke-linecap="round"/><circle cx="258.4" cy="105.9" r="3.9250000000000003" fill="none" stroke="#333" stroke-width="0.95"/><path d="M258.29999999999995 103.7V106.10000000000001L260.29999999999995 107.2" fill="none" stroke="#333" stroke-width="0.8075"/><path d="M254.19999999999996 102.7L255.89999999999998 101.3M262.59999999999997 102.7L260.9 101.3" fill="none" stroke="#333" stroke-width="1.0924999999999998" stroke-linecap="round"/><polygon points="279.50,100.00 280.81,103.50 284.54,103.66 281.62,105.99 282.62,109.59 279.50,107.53 276.38,109.59 277.38,105.99 274.46,103.66 278.19,103.50" fill="none" stroke="#333" stroke-width="0.6" stroke-linejoin="miter"/><circle cx="258.7" cy="128.685" r="3.9250000000000003" fill="none" stroke="#333" stroke-width="0.95"/><path d="M258.59999999999997 126.485V128.885L260.59999999999997 129.985" fill="none" stroke="#333" stroke-width="0.8075"/><path d="M254.49999999999997 125.485L256.2 124.085M262.9 125.485L261.2 124.085" fill="none" stroke="#333" stroke-width="1.0924999999999998" stroke-linecap="round"/><polygon points="280.60,123.29 281.91,126.78 285.64,126.95 282.72,129.27 283.72,132.87 280.60,130.81 277.48,132.87 278.48,129.27 275.56,126.95 279.29,126.78" fill="none" stroke="#333" stroke-width="0.6" stroke-linejoin="miter"/><path d="M296.0 127.08500000000001L300.1 131.185L304.20000000000005 127.08500000000001" fill="none" stroke="#111" stroke-width="1.45"/><circle cx="258.7" cy="153.855" r="3.9250000000000003" fill="none" stroke="#333" stroke-width="0.95"/><path d="M258.59999999999997 151.655V154.05499999999998L260.59999999999997 155.155" fill="none" stroke="#333" stroke-width="0.8075"/><path d="M254.49999999999997 150.65499999999997L256.2 149.255M262.9 150.65499999999997L261.2 149.255" fill="none" stroke="#333" stroke-width="1.0924999999999998" stroke-linecap="round"/><polygon points="280.60,148.45 281.91,151.95 285.64,152.12 282.72,154.44 283.72,158.04 280.60,155.98 277.48,158.04 278.48,154.44 275.56,152.12 279.29,151.95" fill="none" stroke="#333" stroke-width="0.6" stroke-linejoin="miter"/><path d="M296.0 152.255L300.1 156.355L304.20000000000005 152.255" fill="none" stroke="#111" stroke-width="1.45"/><circle cx="258.7" cy="179.025" r="3.9250000000000003" fill="none" stroke="#333" stroke-width="0.95"/><path d="M258.59999999999997 176.82500000000002V179.225L260.59999999999997 180.32500000000002" fill="none" stroke="#333" stroke-width="0.8075"/><path d="M254.49999999999997 175.825L256.2 174.425M262.9 175.825L261.2 174.425" fill="none" stroke="#333" stroke-width="1.0924999999999998" stroke-linecap="round"/><polygon points="280.60,173.62 281.91,177.12 285.64,177.29 282.72,179.61 283.72,183.21 280.60,181.15 277.48,183.21 278.48,179.61 275.56,177.29 279.29,177.12" fill="none" stroke="#333" stroke-width="0.6" stroke-linejoin="miter"/><path d="M296.0 177.425L300.1 181.525L304.20000000000005 177.425" fill="none" stroke="#111" stroke-width="1.45"/><circle cx="258.7" cy="204.19500000000002" r="3.9250000000000003" fill="none" stroke="#333" stroke-width="0.95"/><path d="M258.59999999999997 201.99500000000003V204.395L260.59999999999997 205.49500000000003" fill="none" stroke="#333" stroke-width="0.8075"/><path d="M254.49999999999997 200.995L256.2 199.59500000000003M262.9 200.995L261.2 199.59500000000003" fill="none" stroke="#333" stroke-width="1.0924999999999998" stroke-linecap="round"/><polygon points="280.60,198.80 281.91,202.29 285.64,202.46 282.72,204.78 283.72,208.38 280.60,206.32 277.48,208.38 278.48,204.78 275.56,202.46 279.29,202.29" fill="none" stroke="#333" stroke-width="0.6" stroke-linejoin="miter"/><path d="M296.0 202.59500000000003L300.1 206.69500000000002L304.20000000000005 202.59500000000003" fill="none" stroke="#111" stroke-width="1.45"/><circle cx="258.7" cy="229.365" r="3.9250000000000003" fill="none" stroke="#333" stroke-width="0.95"/><path d="M258.59999999999997 227.16500000000002V229.565L260.59999999999997 230.66500000000002" fill="none" stroke="#333" stroke-width="0.8075"/><path d="M254.49999999999997 226.165L256.2 224.76500000000001M262.9 226.165L261.2 224.76500000000001" fill="none" stroke="#333" stroke-width="1.0924999999999998" stroke-linecap="round"/><polygon points="280.60,223.97 281.91,227.46 285.64,227.63 282.72,229.95 283.72,233.55 280.60,231.49 277.48,233.55 278.48,229.95 275.56,227.63 279.29,227.46" fill="none" stroke="#333" stroke-width="0.6" stroke-linejoin="miter"/><path d="M296.0 227.76500000000001L300.1 231.865L304.20000000000005 227.76500000000001" fill="none" stroke="#111" stroke-width="1.45"/><circle cx="258.7" cy="254.535" r="3.9250000000000003" fill="none" stroke="#333" stroke-width="0.95"/><path d="M258.59999999999997 252.335V254.73499999999999L260.59999999999997 255.835" fill="none" stroke="#333" stroke-width="0.8075"/><path d="M254.49999999999997 251.33499999999998L256.2 249.935M262.9 251.33499999999998L261.2 249.935" fill="none" stroke="#333" stroke-width="1.0924999999999998" stroke-linecap="round"/><polygon points="280.60,249.13 281.91,252.63 285.64,252.80 282.72,255.12 283.72,258.72 280.60,256.66 277.48,258.72 278.48,255.12 275.56,252.80 279.29,252.63" fill="none" stroke="#333" stroke-width="0.6" stroke-linejoin="miter"/><path d="M296.0 252.935L300.1 257.035L304.20000000000005 252.935" fill="none" stroke="#111" stroke-width="1.45"/><path d="M336.42,95.39L333.38,95.39L333.20,93.48L331.22,92.34L329.48,93.13L327.96,90.51L329.52,89.39L329.52,87.11L327.96,85.99L329.48,83.37L331.22,84.16L333.20,83.02L333.38,81.11L336.42,81.11L336.60,83.02L338.58,84.16L340.32,83.37L341.84,85.99L340.28,87.11L340.28,89.39L341.84,90.51L340.32,93.13L338.58,92.34L336.60,93.48ZM337.9 88.25A3.0 3.0 0 1 0 331.9 88.25A3.0 3.0 0 1 0 337.9 88.25Z" fill="#111" fill-rule="evenodd" stroke="#111" stroke-width="0.5" stroke-linejoin="round"/><rect x="362.3" y="85.6" width="2.4" height="5.8" rx="0.7" fill="none" stroke="#fff" stroke-width="0.85"/><path d="M363.5 84.5V85.6M363.5 91.4V92.5" stroke="#fff" stroke-width="0.8"/><rect x="371.1" y="85.6" width="2.4" height="5.8" rx="0.7" fill="none" stroke="#fff" stroke-width="0.85"/><path d="M372.3 84.5V85.6M372.3 91.4V92.5" stroke="#fff" stroke-width="0.8"/><rect x="366.8" y="86.9" width="2.2" height="3.3" rx="0.6" fill="none" stroke="#fff" stroke-width="0.85"/><path d="M367.9 85.8V86.9M367.9 90.2V91.3M364.9 88.5H366.6M369.2 88.5H370.9" stroke="#fff" stroke-width="0.8"/><path d="M381.3 84.1V92.5H392.9" fill="none" stroke="#333" stroke-width="0.75"/><path d="M382.3 88.6L384.2 86.9L386.5 89.3L388.8 86.9L390.7 88.3L392.8 85.2" fill="none" stroke="#333" stroke-width="0.8"/><circle cx="333.4" cy="298.1" r="4.35" fill="#fff" stroke="#4108a3" stroke-width="1.3"/><circle cx="376.8" cy="298.1" r="4.35" fill="#fff" stroke="#111" stroke-width="1.3"/><circle cx="719.5" cy="85.8" r="3.8" fill="none" stroke="#333" stroke-width="0.8"/><circle cx="719.5" cy="84.3" r="0.5" fill="#333"/><rect x="719.1" y="85.3" width="0.8" height="2.5" fill="#333"/><circle cx="719.5" cy="112.6" r="3.8" fill="none" stroke="#333" stroke-width="0.8"/><circle cx="719.5" cy="111.1" r="0.5" fill="#333"/><rect x="719.1" y="112.1" width="0.8" height="2.5" fill="#333"/><circle cx="719.5" cy="139.2" r="3.8" fill="none" stroke="#333" stroke-width="0.8"/><circle cx="719.5" cy="137.7" r="0.5" fill="#333"/><rect x="719.1" y="138.7" width="0.8" height="2.5" fill="#333"/><circle cx="719.5" cy="165.6" r="3.8" fill="none" stroke="#333" stroke-width="0.8"/><circle cx="719.5" cy="164.1" r="0.5" fill="#333"/><rect x="719.1" y="165.1" width="0.8" height="2.5" fill="#333"/><circle cx="719.5" cy="200.9" r="3.8" fill="none" stroke="#333" stroke-width="0.8"/><circle cx="719.5" cy="199.4" r="0.5" fill="#333"/><rect x="719.1" y="200.4" width="0.8" height="2.5" fill="#333"/><circle cx="570.0" cy="351.6" r="3.5" fill="none" stroke="#333" stroke-width="0.8"/><circle cx="570.0" cy="350.1" r="0.5" fill="#333"/><rect x="569.6" y="351.1" width="0.8" height="2.5" fill="#333"/><circle cx="720" cy="271.9" r="3.6499999999999995" fill="none" stroke="#333" stroke-width="0.9"/><path d="M719.9 269.7V272.09999999999997L721.9 273.2" fill="none" stroke="#333" stroke-width="0.765"/><path d="M716.1 268.99999999999994L717.8 267.59999999999997M723.9 268.99999999999994L722.2 267.59999999999997" fill="none" stroke="#333" stroke-width="1.035" stroke-linecap="round"/><path d="M719.9 287.1A3.75 3.75 0 1 0 723.65 290.85" fill="none" stroke="#222" stroke-width="0.95"/><path d="M720.7 286.3A3.9 3.9 0 0 1 724.6 290.2L720.7 290.2Z" fill="#111"/></svg>
</div>
</body></html>
